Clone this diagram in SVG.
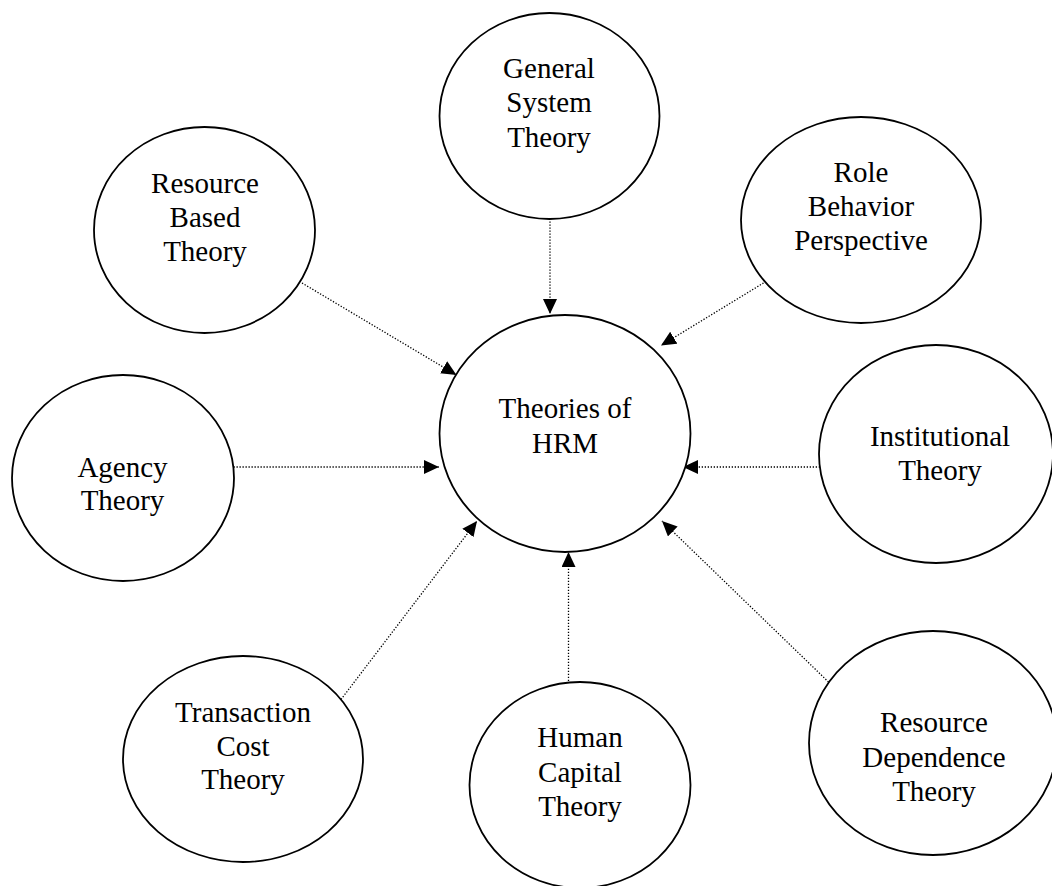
<svg xmlns="http://www.w3.org/2000/svg" width="1052" height="886" viewBox="0 0 1052 886">
<defs>
<marker id="arr" markerUnits="userSpaceOnUse" markerWidth="16" markerHeight="15" refX="15" refY="7" orient="auto">
<path d="M0,0 L15,7 L0,14 z" fill="#000"/>
</marker>
<style>
.node ellipse{fill:#fff;stroke:#000;stroke-width:1.8}
.node text{font-family:"Liberation Serif","Times New Roman",serif;font-size:29px;fill:#000;text-anchor:middle}
.conn line{stroke:#000;stroke-width:1.3;stroke-dasharray:1.3 1.7;marker-end:url(#arr)}
</style>
</defs>
<rect width="1052" height="886" fill="#fff"/>
<g id="connectors" class="conn">
<line x1="550" y1="221.5" x2="550" y2="314"/>
<line x1="302" y1="283" x2="456.5" y2="375"/>
<line x1="763.5" y1="283" x2="661" y2="345.5"/>
<line x1="233.5" y1="467" x2="439" y2="467"/>
<line x1="820" y1="467" x2="683" y2="467"/>
<line x1="341" y1="699.5" x2="477" y2="521"/>
<line x1="568.5" y1="699" x2="568.5" y2="552"/>
<line x1="828.5" y1="682" x2="662" y2="521"/>
</g>
<g id="general-system" class="node">
<ellipse cx="549.5" cy="116" rx="110" ry="103"/>
<text x="549" y="77.5">General</text>
<text x="549" y="112">System</text>
<text x="549" y="146.5">Theory</text>
</g>
<g id="resource-based" class="node">
<ellipse cx="204.5" cy="230" rx="110.5" ry="103"/>
<text x="205" y="193">Resource</text>
<text x="205" y="226.5">Based</text>
<text x="205" y="260.5">Theory</text>
</g>
<g id="role-behavior" class="node">
<ellipse cx="861" cy="220" rx="120" ry="103"/>
<text x="861" y="182">Role</text>
<text x="861" y="215.5">Behavior</text>
<text x="861" y="249.5">Perspective</text>
</g>
<g id="theories-hrm" class="node">
<ellipse cx="565" cy="433.5" rx="125.5" ry="118.5"/>
<text x="565" y="417.5">Theories of</text>
<text x="565" y="452.5">HRM</text>
</g>
<g id="agency" class="node">
<ellipse cx="123" cy="478" rx="111" ry="103"/>
<text x="122.5" y="476.5">Agency</text>
<text x="122.5" y="510">Theory</text>
</g>
<g id="institutional" class="node">
<ellipse cx="936" cy="454" rx="117" ry="109"/>
<text x="940" y="446">Institutional</text>
<text x="940" y="480">Theory</text>
</g>
<g id="transaction-cost" class="node">
<ellipse cx="243" cy="759" rx="120" ry="103"/>
<text x="243" y="722">Transaction</text>
<text x="243" y="755.5">Cost</text>
<text x="243" y="789">Theory</text>
</g>
<g id="human-capital" class="node">
<ellipse cx="580" cy="785" rx="110.5" ry="103"/>
<text x="580" y="747">Human</text>
<text x="580" y="781.5">Capital</text>
<text x="580" y="816">Theory</text>
</g>
<g id="resource-dependence" class="node">
<ellipse cx="933" cy="743" rx="124" ry="112"/>
<text x="934" y="732">Resource</text>
<text x="934" y="766.5">Dependence</text>
<text x="934" y="801">Theory</text>
</g>
</svg>
